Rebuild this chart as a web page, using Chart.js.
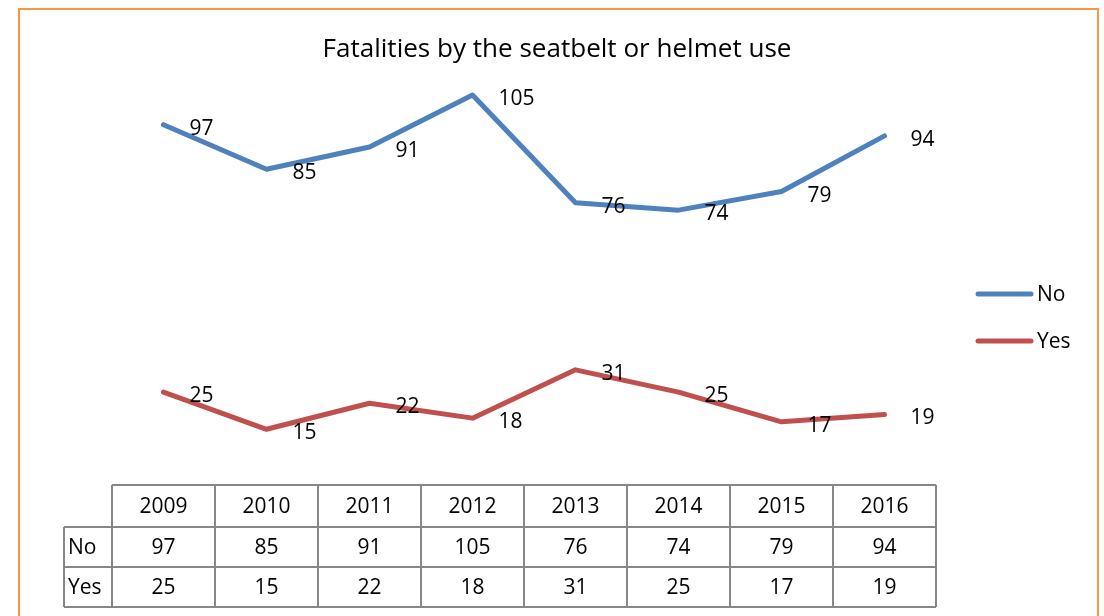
<!DOCTYPE html>
<html>
<head>
<meta charset="utf-8">
<script src="https://cdn.jsdelivr.net/npm/chart.js@4"></script>
<style>
html,body{margin:0;padding:0;background:#fff;}
#wrap{width:1104px;height:616px;position:relative;}
</style>
</head>
<body>
<div id="wrap"><canvas id="c" width="1104" height="616"></canvas></div>
<script>
const categories = ['2009','2010','2011','2012','2013','2014','2015','2016'];
const noValues = [97, 85, 91, 105, 76, 74, 79, 94];
const yesValues = [25, 15, 22, 18, 31, 25, 17, 19];
const seriesNames = ['No', 'Yes'];
const titleText = 'Fatalities by the seatbelt or helmet use';

const FONT = '"Open Sans", "Liberation Sans", sans-serif';
const BLUE = '#4F81BD';
const RED = '#C0504D';
const GRID = '#878787';

const decorPlugin = {
  id: 'decor',
  beforeDraw(chart) {
    const ctx = chart.ctx;
    ctx.save();
    ctx.fillStyle = '#fff';
    ctx.fillRect(0, 0, chart.width, chart.height);
    ctx.strokeStyle = '#F79646';
    ctx.lineWidth = 2;
    ctx.strokeRect(19, 9, 1079, 640);
    ctx.restore();
  },
  afterDraw(chart) {
    const ctx = chart.ctx;
    const xs = chart.scales.x;
    const area = chart.chartArea;
    ctx.save();
    // title
    ctx.fillStyle = '#000';
    let size = 24;
    ctx.font = size + 'px ' + FONT;
    const w = ctx.measureText(titleText).width;
    size = size * 469 / w;
    ctx.font = size + 'px ' + FONT;
    ctx.textAlign = 'center';
    ctx.textBaseline = 'middle';
    ctx.fillText(titleText, 557, 50);

    // data labels
    ctx.font = '21px ' + FONT;
    ctx.textAlign = 'left';
    chart.data.datasets.forEach((ds, di) => {
      const meta = chart.getDatasetMeta(di);
      meta.data.forEach((pt, i) => {
        ctx.fillText(String(ds.data[i]), pt.x + 26, pt.y + 4);
      });
    });

    // legend
    const legY = [294, 341];
    chart.data.datasets.forEach((ds, di) => {
      ctx.strokeStyle = ds.borderColor;
      ctx.lineWidth = 5;
      ctx.lineCap = 'round';
      ctx.beginPath();
      ctx.moveTo(978, legY[di]);
      ctx.lineTo(1031, legY[di]);
      ctx.stroke();
      ctx.fillStyle = '#000';
      ctx.textAlign = 'left';
      ctx.fillText(ds.label, 1037, legY[di] + 1);
    });

    // data table
    const n = categories.length;
    const band = (area.right - area.left) / n;
    const top = area.bottom;
    const rows = [top, top + 42, top + 82, top + 122];
    const leftCol = 64;
    ctx.strokeStyle = GRID;
    ctx.lineWidth = 2;
    ctx.lineCap = 'butt';
    ctx.beginPath();
    ctx.moveTo(area.left, rows[0]); ctx.lineTo(area.right, rows[0]);
    for (let r = 1; r < rows.length; r++) {
      ctx.moveTo(leftCol, rows[r]); ctx.lineTo(area.right, rows[r]);
    }
    ctx.moveTo(leftCol, rows[1]); ctx.lineTo(leftCol, rows[3]);
    for (let i = 0; i <= n; i++) {
      const x = i < n ? xs.getPixelForValue(i) - band / 2 : xs.getPixelForValue(n - 1) + band / 2;
      ctx.moveTo(x, rows[0]); ctx.lineTo(x, rows[3]);
    }
    ctx.stroke();

    ctx.fillStyle = '#000';
    ctx.font = '21px ' + FONT;
    ctx.textAlign = 'center';
    ctx.textBaseline = 'middle';
    categories.forEach((c, i) => {
      const x = xs.getPixelForValue(i);
      ctx.fillText(c, x, (rows[0] + rows[1]) / 2 + 1);
      ctx.fillText(String(noValues[i]), x, (rows[1] + rows[2]) / 2 + 1);
      ctx.fillText(String(yesValues[i]), x, (rows[2] + rows[3]) / 2 + 1);
    });
    ctx.textAlign = 'left';
    ctx.fillText(seriesNames[0], 68, (rows[1] + rows[2]) / 2 + 1);
    ctx.fillText(seriesNames[1], 68, (rows[2] + rows[3]) / 2 + 1);
    ctx.restore();
  }
};

new Chart(document.getElementById('c'), {
  type: 'line',
  data: {
    labels: categories,
    datasets: [
      { label: seriesNames[0], data: noValues, borderColor: BLUE, backgroundColor: BLUE, borderWidth: 5, pointRadius: 0, tension: 0, borderCapStyle: 'round', borderJoinStyle: 'round' },
      { label: seriesNames[1], data: yesValues, borderColor: RED, backgroundColor: RED, borderWidth: 5, pointRadius: 0, tension: 0, borderCapStyle: 'round', borderJoinStyle: 'round' }
    ]
  },
  options: {
    responsive: false,
    animation: false,
    devicePixelRatio: 1,
    layout: { padding: { left: 112, right: 168, top: 43, bottom: 131 } },
    plugins: { legend: { display: false }, title: { display: false }, tooltip: { enabled: false } },
    scales: {
      x: { display: false, offset: true },
      y: { display: false, min: 0, max: 119 }
    }
  },
  plugins: [decorPlugin]
});
</script>
</body>
</html>
